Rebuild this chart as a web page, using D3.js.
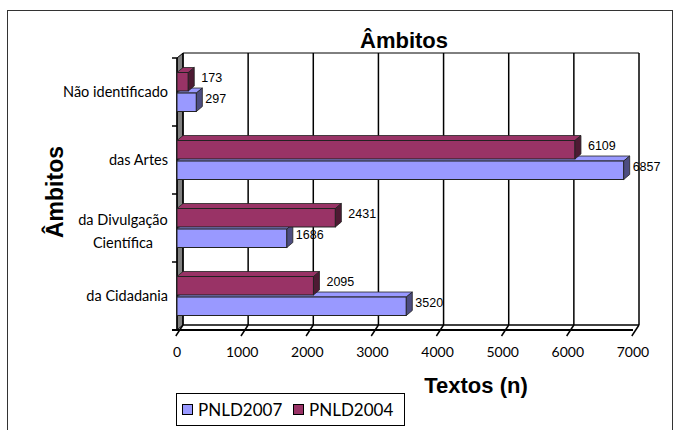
<!DOCTYPE html>
<html>
<head>
<meta charset="utf-8">
<script src="https://cdn.jsdelivr.net/npm/d3@7"></script>
<style>
  body { margin: 0; background: #fff; }
  svg text { fill: #000; }
</style>
</head>
<body>
<div id="chart"></div>
<script>
const width = 675, height = 430;

// data
const categories = ["Não identificado", "das Artes", "da Divulgação Científica", "da Cidadania"];
const series = ["PNLD2004", "PNLD2007"];
const pnld2007 = [297, 6857, 1686, 3520];
const pnld2004 = [173, 6109, 2431, 2095];
const xTicks = [0, 1000, 2000, 3000, 4000, 5000, 6000, 7000];
const legendItems = ["PNLD2007", "PNLD2004"];

const colors = { PNLD2007: "#9999ff", PNLD2004: "#993366" };
const sideColors = { PNLD2007: "#4d4d80", PNLD2004: "#4d1a33" };
const topColors = { PNLD2007: "#9999ff", PNLD2004: "#993366" };

const dx = 6, dy = 5;   // 3d depth offset

const svg = d3.select("#chart").append("svg")
    .attr("width", width)
    .attr("height", height);

// outer frame
svg.append("rect")
    .attr("x", 7.5).attr("y", 10.5)
    .attr("width", 665).attr("height", 440)
    .attr("fill", "none").attr("stroke", "#333").attr("stroke-width", 1);

const x = d3.scaleLinear().domain([0, 7000]).range([177, 633]);
const y = d3.scaleBand().domain(categories).range([58, 330]);
const ySub = d3.scaleBand().domain(series)
    .range([14.5, y.bandwidth() - 14.5]).paddingInner(0.1);

const plotTop = y.range()[0], plotBottom = y.range()[1];

// left side wall
svg.append("polygon")
    .attr("points", [[x(0), plotTop], [x(0) + dx, plotTop - dy], [x(0) + dx, plotBottom - dy], [x(0), plotBottom]].join(" "))
    .attr("fill", "#808080").attr("stroke", "#000").attr("stroke-width", 1);

// back wall grid
const grid = svg.append("g");
grid.selectAll("line.v")
    .data(xTicks)
    .enter().append("line")
    .attr("x1", d => x(d) + dx).attr("x2", d => x(d) + dx)
    .attr("y1", plotTop - dy).attr("y2", plotBottom - dy)
    .attr("stroke", "#000").attr("stroke-width", 1.5);
grid.append("line")
    .attr("x1", x(0) + dx).attr("x2", x(7000) + dx)
    .attr("y1", plotTop - dy).attr("y2", plotTop - dy)
    .attr("stroke", "#000").attr("stroke-width", 1);

// floor
grid.append("line")
    .attr("x1", x(0) + dx).attr("x2", x(7000) + dx)
    .attr("y1", plotBottom - dy).attr("y2", plotBottom - dy)
    .attr("stroke", "#000").attr("stroke-width", 1.5);
grid.append("line")
    .attr("x1", x(0) - 5).attr("x2", x(7000))
    .attr("y1", plotBottom).attr("y2", plotBottom)
    .attr("stroke", "#000").attr("stroke-width", 2);
grid.selectAll("line.d")
    .data(xTicks)
    .enter().append("line")
    .attr("x1", d => x(d) + dx).attr("y1", plotBottom - dy)
    .attr("x2", d => x(d) - 1.2).attr("y2", plotBottom + 6)
    .attr("stroke", "#000").attr("stroke-width", 1.5);

// y axis front line + ticks
svg.append("line")
    .attr("x1", x(0)).attr("x2", x(0))
    .attr("y1", plotTop).attr("y2", plotBottom)
    .attr("stroke", "#000").attr("stroke-width", 1.5);
svg.selectAll("line.yt")
    .data(d3.range(categories.length + 1))
    .enter().append("line")
    .attr("x1", x(0) - 5).attr("x2", x(0))
    .attr("y1", i => plotTop + i * y.step()).attr("y2", i => plotTop + i * y.step())
    .attr("stroke", "#000").attr("stroke-width", 1.5);

// bars
const rows = categories.map((c, i) => ({ cat: c, vals: { PNLD2007: pnld2007[i], PNLD2004: pnld2004[i] } }));

function drawBar(g, cat, s, v) {
    const y0 = y(cat) + ySub(s), y1 = y0 + ySub.bandwidth();
    const x0 = x(0), x1 = x(v);
    g.append("polygon")
        .attr("points", [[x0, y0], [x0 + dx, y0 - dy], [x1 + dx, y0 - dy], [x1, y0]].join(" "))
        .attr("fill", topColors[s]).attr("stroke", "#222").attr("stroke-width", 0.8);
    g.append("rect")
        .attr("x", x0).attr("y", y0)
        .attr("width", x1 - x0).attr("height", y1 - y0)
        .attr("fill", colors[s]).attr("stroke", "#222").attr("stroke-width", 1);
    g.append("polygon")
        .attr("points", [[x1, y0], [x1 + dx, y0 - dy], [x1 + dx, y1 - dy], [x1, y1]].join(" "))
        .attr("fill", sideColors[s]).attr("stroke", "#222").attr("stroke-width", 0.8);
}

const bars = svg.append("g");
rows.forEach(r => {
    drawBar(bars, r.cat, "PNLD2007", r.vals.PNLD2007);
    drawBar(bars, r.cat, "PNLD2004", r.vals.PNLD2004);
});

// value labels
rows.forEach(r => {
    series.forEach(s => {
        const v = r.vals[s];
        const yc = y(r.cat) + ySub(s) + ySub.bandwidth() / 2 - 3;
        svg.append("text")
            .attr("x", x(v) + dx + (s === "PNLD2004" ? 7 : 3))
            .attr("y", yc)
            .attr("dominant-baseline", "middle")
            .attr("font-family", "Arial, 'Liberation Sans', sans-serif")
            .attr("font-size", 12.5)
            .text(v);
    });
});

// x tick labels
svg.selectAll("text.xt")
    .data(xTicks)
    .enter().append("text")
    .attr("x", d => x(d))
    .attr("y", 357)
    .attr("text-anchor", "middle")
    .attr("font-family", "Lato, sans-serif")
    .attr("font-size", 14)
    .text(d => d);

// category labels
const catLabels = svg.append("g")
    .attr("font-family", "Lato, sans-serif")
    .attr("font-size", 14.5);
categories.forEach(c => {
    const yc = y(c) + y.bandwidth() / 2;
    if (c === "da Divulgação Científica") {
        const t = catLabels.append("text").attr("text-anchor", "middle");
        t.append("tspan").attr("x", 123).attr("y", yc - 3).text("da Divulgação");
        t.append("tspan").attr("x", 123).attr("y", yc + 20).text("Científica");
    } else {
        catLabels.append("text")
            .attr("x", 168).attr("y", yc + 5)
            .attr("text-anchor", "end")
            .text(c);
    }
});

// titles
svg.append("text")
    .attr("x", 404).attr("y", 48)
    .attr("text-anchor", "middle")
    .attr("font-family", "Arial, 'Liberation Sans', sans-serif")
    .attr("font-weight", "bold").attr("font-size", 22)
    .text("Âmbitos");

svg.append("text")
    .attr("transform", "translate(63,192) rotate(-90)")
    .attr("text-anchor", "middle")
    .attr("font-family", "Arial, 'Liberation Sans', sans-serif")
    .attr("font-weight", "bold").attr("font-size", 23)
    .text("Âmbitos");

svg.append("text")
    .attr("x", 476).attr("y", 393)
    .attr("text-anchor", "middle")
    .attr("font-family", "Arial, 'Liberation Sans', sans-serif")
    .attr("font-weight", "bold").attr("font-size", 22)
    .text("Textos (n)");

// legend
const legend = svg.append("g");
legend.append("rect")
    .attr("x", 176.5).attr("y", 393.5)
    .attr("width", 228).attr("height", 32)
    .attr("fill", "#fff").attr("stroke", "#000").attr("stroke-width", 1);
const legX = [182, 293];
legendItems.forEach((s, i) => {
    legend.append("rect")
        .attr("x", legX[i] + 0.5).attr("y", 404.5)
        .attr("width", 10).attr("height", 10)
        .attr("fill", colors[s]).attr("stroke", "#000").attr("stroke-width", 1);
    legend.append("text")
        .attr("x", legX[i] + 16).attr("y", 416)
        .attr("font-family", "Lato, sans-serif")
        .attr("font-size", 17)
        .text(s);
});
</script>
</body>
</html>
